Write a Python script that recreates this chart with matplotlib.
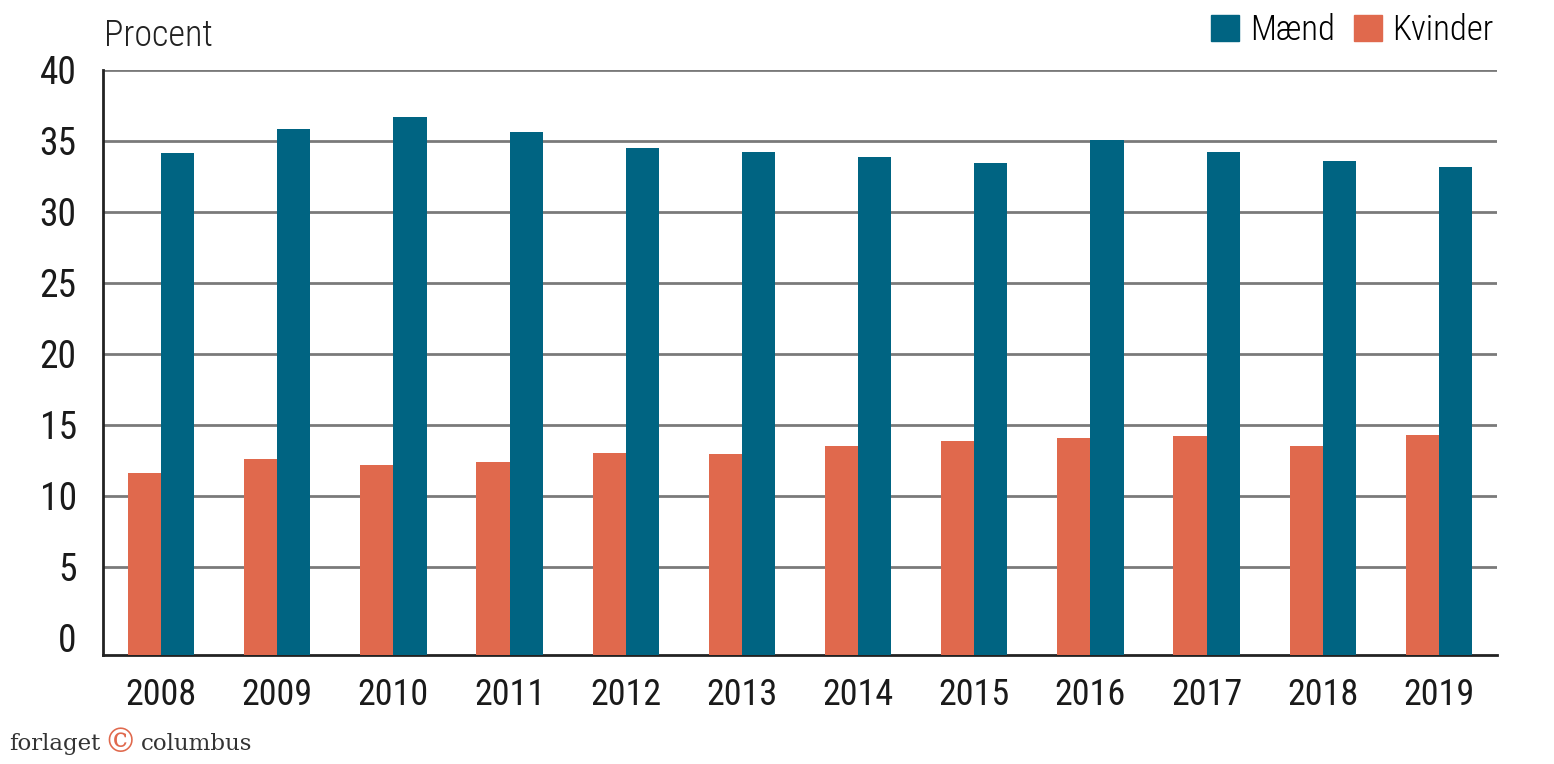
import numpy as np
import matplotlib.pyplot as plt
from matplotlib.patches import Patch

years = ['2008', '2009', '2010', '2011', '2012', '2013',
         '2014', '2015', '2016', '2017', '2018', '2019']
maend = [34.15, 35.85, 36.7, 35.65, 34.5, 34.25, 33.85, 33.45, 35.05, 34.25, 33.6, 33.2]
kvinder = [11.65, 12.6, 12.2, 12.4, 13.05, 12.95, 13.55, 13.85, 14.1, 14.25, 13.55, 14.3]
yticks = [0, 5, 10, 15, 20, 25, 30, 35, 40]

col_m = '#006482'
col_k = '#E0694D'
fam = ['Roboto Condensed', 'Liberation Sans Narrow', 'Roboto', 'DejaVu Sans']

plt.rcParams['font.family'] = fam

fig = plt.figure(figsize=(15.54, 7.64), dpi=100)
ax = fig.add_axes([0.0663, 0.1427, 0.897, 0.7657])

ymin = -1.2
x = np.arange(len(years))
w = 0.285
ax.bar(x - w / 2, np.array(kvinder) - ymin, w, bottom=ymin, color=col_k, zorder=3)
ax.bar(x + w / 2, np.array(maend) - ymin, w, bottom=ymin, color=col_m, zorder=3)

ax.set_xlim(-0.5, len(years) - 0.5)
ax.set_ylim(ymin, 40)
ax.set_yticks(yticks)
ax.set_yticklabels([str(t) for t in yticks])
ax.set_xticks(x)
ax.set_xticklabels(years)

for t in yticks[1:]:
    ax.axhline(t, color='#7a7a7a', lw=2, zorder=1)

for s in ['top', 'right']:
    ax.spines[s].set_visible(False)
for s in ['left', 'bottom']:
    ax.spines[s].set_color('#222222')
    ax.spines[s].set_linewidth(2)

ax.tick_params(axis='y', length=0, pad=19, labelsize=27, colors='#1a1a1a')
ax.tick_params(axis='x', length=0, pad=16, labelsize=26, colors='#1a1a1a')

fig.text(0.067, 0.953, 'Procent', fontsize=26, fontweight='light', color='#222222',
         va='center', ha='left')

handles = [Patch(color=col_m, label='Mænd'), Patch(color=col_k, label='Kvinder')]
fig.legend(handles=handles, loc='upper right', bbox_to_anchor=(0.981, 1.023), ncol=2,
           frameon=False, handlelength=0.8, handleheight=0.8,
           handletextpad=0.3, columnspacing=0.55, prop={'size': 25, 'weight': 'light'})

# watermark
fig.text(0.006, 0.018, 'forlaget', fontsize=16.5, family='DejaVu Serif', color='#333333', va='baseline')
fig.text(0.0665, 0.016, '©', fontsize=24, family='DejaVu Serif', color='#E0694D', va='baseline')
fig.text(0.0905, 0.018, 'columbus', fontsize=16.5, family='DejaVu Serif', color='#333333', va='baseline')

fig.savefig('out.png', dpi=100)
